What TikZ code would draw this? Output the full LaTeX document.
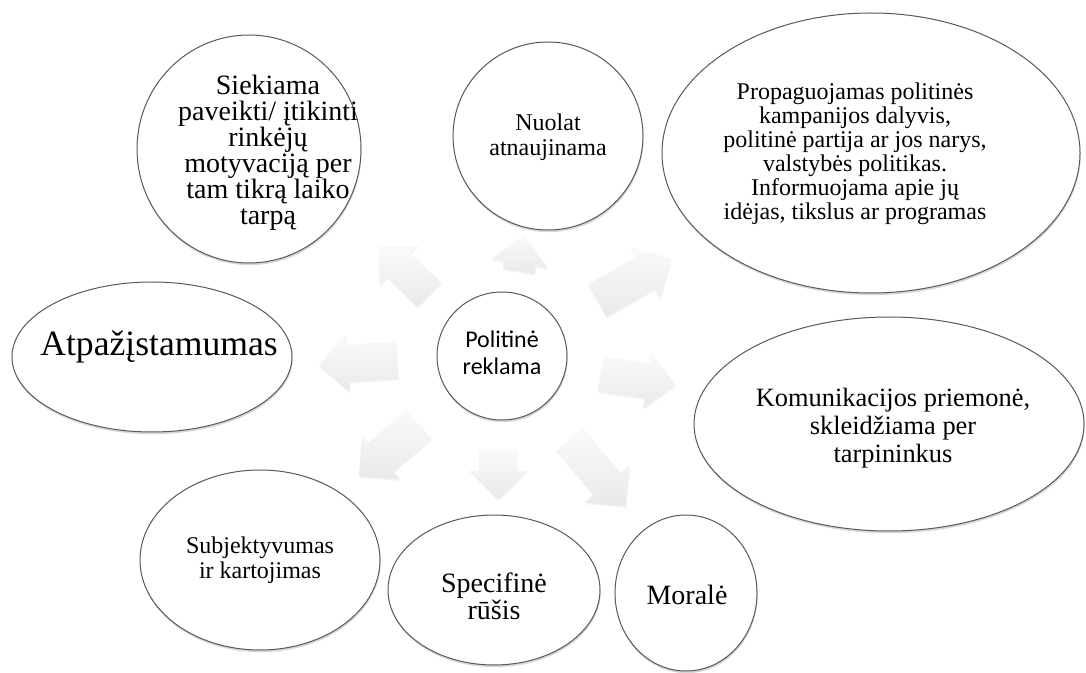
\documentclass[tikz,border=0pt]{standalone}
\usepackage{fontspec}
\setmainfont{Liberation Serif}
\newfontfamily\calibri{Carlito}
\usetikzlibrary{shapes.geometric,shapes.arrows,shadows}

\tikzset{
    bubble/.style={ellipse, draw=black!65, line width=0.5pt, fill=white, inner sep=0pt,
        drop shadow={shadow xshift=0.3pt, shadow yshift=-1.1pt, opacity=0.22, fill=black!70}},
    bubbletext/.style={align=center, inner sep=0pt},
    blockarrow/.style={single arrow, draw=none, inner xsep=0pt,
        top color=gray!4, bottom color=gray!17,
        drop shadow={shadow xshift=0.4pt, shadow yshift=-0.9pt, opacity=0.1}},
}

\begin{document}
\begin{tikzpicture}[x=0.5pt,y=-0.5pt]
    \useasboundingbox[fill=white] (0,0) rectangle (1086,673);

    % block arrows round the centre
    \foreach \n/\x/\y/\a/\l/\b/\e in {a1/410/276/136/35/8.25/5.25, a2/520/261/81/18/7.75/6.25,
            a3/626/284/30/42.5/9/5.5, a4/629/378/-8/37.5/8.5/5.25, a5/367/362/184/39/9/5.25,
            a6/396/444/221/39.5/9.25/5, a7/498/465/270/25/9.25/5, a8/592/466/-50/43.5/8.5/5.75}
        \node[blockarrow, rotate=\a, minimum height=\l pt, inner ysep=\b pt,
            single arrow head extend=\e pt] (\n) at (\x,\y) {};

    % bubbles
    \node[bubble, minimum width=65pt, minimum height=64pt] (reklama) at (502,356) {};
    \node[bubble, minimum width=112pt, minimum height=114pt] (siekiama) at (249,149) {};
    \node[bubble, minimum width=95pt, minimum height=94pt] (nuolat) at (548,136) {};
    \node[bubble, minimum width=209pt, minimum height=140pt] (propag) at (871,153) {};
    \node[bubble, minimum width=140pt, minimum height=75pt] (atpaz) at (152,357) {};
    \node[bubble, minimum width=195pt, minimum height=107pt] (komun) at (889,424) {};
    \node[bubble, minimum width=120pt, minimum height=90pt] (subj) at (260,560) {};
    \node[bubble, minimum width=106pt, minimum height=75pt] (specif) at (494,590) {};
    \node[bubble, minimum width=71pt, minimum height=78pt] (moral) at (686,593) {};

    % texts
    \node[bubbletext, font=\calibri\fontsize{12}{13.3}\selectfont] (reklama-txt) at (502,353) {Politinė\\reklama};
    \node[bubbletext, font=\fontsize{14}{13}\selectfont] (siekiama-txt) at (268,153)
        {Siekiama\\paveikti/ įtikinti\\rinkėjų\\motyvaciją per\\tam tikrą laiko\\tarpą};
    \node[bubbletext, font=\fontsize{12}{12.5}\selectfont] (nuolat-txt) at (548,137) {Nuolat\\atnaujinama};
    \node[bubbletext, font=\fontsize{12}{12}\selectfont] (propag-txt) at (855,154)
        {Propaguojamas politinės\\kampanijos dalyvis,\\politinė partija ar jos narys,\\valstybės politikas.\\Informuojama apie jų\\idėjas, tikslus ar programas};
    \node[bubbletext, font=\fontsize{17.8}{20}\selectfont] (atpaz-txt) at (159,347) {Atpažįstamumas};
    \node[bubbletext, font=\fontsize{13.2}{14}\selectfont] (komun-txt) at (893,428)
        {Komunikacijos priemonė,\\skleidžiama per\\tarpininkus};
    \node[bubbletext, font=\fontsize{12}{12.5}\selectfont] (subj-txt) at (260,560) {Subjektyvumas\\ir kartojimas};
    \node[bubbletext, font=\fontsize{14}{13.5}\selectfont] (specif-txt) at (494,596) {Specifinė\\rūšis};
    \node[bubbletext, font=\fontsize{14}{16}\selectfont] (moral-txt) at (687,595) {Moralė};
\end{tikzpicture}
\end{document}
